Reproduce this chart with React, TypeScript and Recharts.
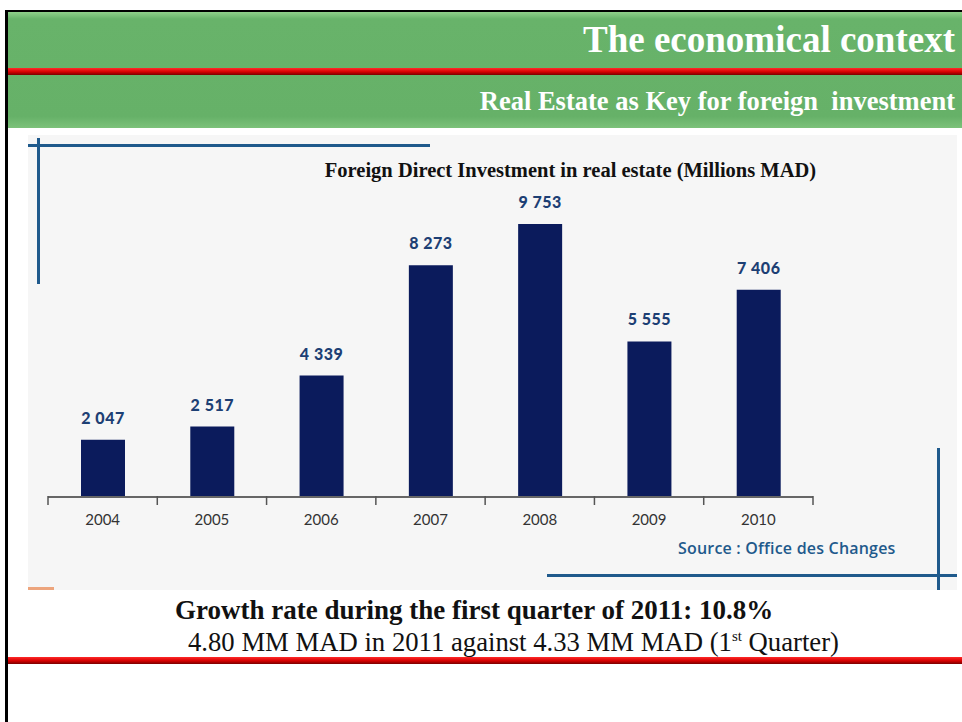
import { BarChart, Bar, XAxis, YAxis, LabelList } from "recharts";

const years = ["2004", "2005", "2006", "2007", "2008", "2009", "2010"];
const fdiValues = [2047, 2517, 4339, 8273, 9753, 5555, 7406];
const yDomain = [0, 12000];

const data = years.map((year, i) => ({ year, value: fdiValues[i] }));

// chart box on the page
const CHART_W = 929;
const CHART_H = 455;
const M = { top: 26, right: 144, left: 20, bottom: 63 };
const AXIS_H = 30;
const BAND = (CHART_W - M.left - M.right) / years.length;

const fmt = (v: any) => String(v).replace(/\B(?=(\d{3})+(?!\d))/g, " ");

const YearTick = ({ x, y, payload, index }: any) => {
  const left = x - BAND / 2;
  return (
    <g>
      <line x1={left} y1={y - 9} x2={left} y2={y} stroke="#555" strokeWidth={1.5} />
      {index === years.length - 1 && (
        <line x1={x + BAND / 2} y1={y - 9} x2={x + BAND / 2} y2={y} stroke="#555" strokeWidth={1.5} />
      )}
      <text x={x} y={y + 20} textAnchor="middle" fontFamily="Lato, sans-serif" fontSize={15} fill="#333">
        {payload.value}
      </text>
    </g>
  );
};

const redLine = {
  position: "absolute" as const,
  left: 8,
  width: 954,
  height: 7,
  background: "linear-gradient(#ff2a2a, #d60000 55%, #7a0000)",
};

const App = () => {
  return (
    <div style={{ position: "absolute", left: 0, top: 0, width: 962, height: 722, overflow: "hidden", background: "#fff", fontFamily: "'Liberation Serif', serif" }}>
      {/* slide frame */}
      <div style={{ position: "absolute", left: 5, top: 10, width: 3, height: 712, background: "#000" }} />
      <div style={{ position: "absolute", left: 5, top: 10, width: 957, height: 2, background: "#000" }} />

      {/* green header */}
      <div style={{ position: "absolute", left: 8, top: 12, width: 954, height: 116, background: "linear-gradient(#8fd08a, #68b36a 6%, #66b168 90%, #7cc27a)" }} />
      <div style={{ ...redLine, top: 68 }} />
      <div style={{ position: "absolute", right: 7, top: 18, color: "#fff", fontWeight: "bold", fontSize: 37, whiteSpace: "nowrap" }}>
        The economical context
      </div>
      <div style={{ position: "absolute", right: 7, top: 86, color: "#fff", fontWeight: "bold", fontSize: 26.5, whiteSpace: "nowrap" }}>
        Real Estate as Key for foreign&nbsp; investment
      </div>

      {/* chart image area */}
      <div style={{ position: "absolute", left: 28, top: 135, width: CHART_W, height: CHART_H, background: "#f6f6f6" }}>
        {/* decorative corner lines */}
        <div style={{ position: "absolute", left: 0, top: 9, width: 402, height: 3, background: "#1f5a8c" }} />
        <div style={{ position: "absolute", left: 9, top: 3, width: 3, height: 146, background: "#1f5a8c" }} />
        <div style={{ position: "absolute", left: 519, top: 439, width: 410, height: 3, background: "#1f5a8c" }} />
        <div style={{ position: "absolute", left: 909, top: 313, width: 3, height: 142, background: "#1f5a8c" }} />
        <div style={{ position: "absolute", left: 0, top: 452, width: 26, height: 3, background: "#e9834a", opacity: 0.7 }} />

        <div style={{ position: "absolute", left: 0, top: 24, width: 1085, textAlign: "center", fontWeight: "bold", fontSize: 20.5, color: "#111" }}>
          Foreign Direct Investment in real estate (Millions MAD)
        </div>
        <div style={{ position: "absolute", left: 650, top: 402, fontFamily: "'Open Sans', sans-serif", fontWeight: 600, fontSize: 16, color: "#1f5a8c", letterSpacing: 0.2 }}>
          Source : Office des Changes
        </div>

        <div style={{ position: "absolute", left: 0, top: 0 }}>
          <BarChart width={CHART_W} height={CHART_H} data={data} margin={M}>
            <XAxis
              dataKey="year"
              height={AXIS_H}
              axisLine={{ stroke: "#666", strokeWidth: 2 }}
              tickLine={false}
              tick={<YearTick />}
              interval={0}
            />
            <YAxis hide domain={yDomain} />
            <Bar dataKey="value" fill="#0b1b5c" barSize={44} isAnimationActive={false}>
              <LabelList
                dataKey="value"
                position="top"
                offset={16}
                formatter={fmt}
                style={{ fontFamily: "Lato, sans-serif", fontWeight: 900, fontSize: 16, fill: "#1d3f74", letterSpacing: 0.5 }}
              />
            </Bar>
          </BarChart>
        </div>
      </div>

      {/* footer text */}
      <div style={{ position: "absolute", left: 175, top: 595, fontWeight: "bold", fontSize: 27, color: "#111", whiteSpace: "nowrap" }}>
        Growth rate during the first quarter of 2011: 10.8%
      </div>
      <div style={{ position: "absolute", left: 188, top: 627, fontSize: 26.7, color: "#111", whiteSpace: "nowrap" }}>
        4.80 MM MAD in 2011 against 4.33 MM MAD (1<sup style={{ fontSize: 15 }}>st</sup> Quarter)
      </div>
      <div style={{ ...redLine, top: 657 }} />
    </div>
  );
};

export default App;
